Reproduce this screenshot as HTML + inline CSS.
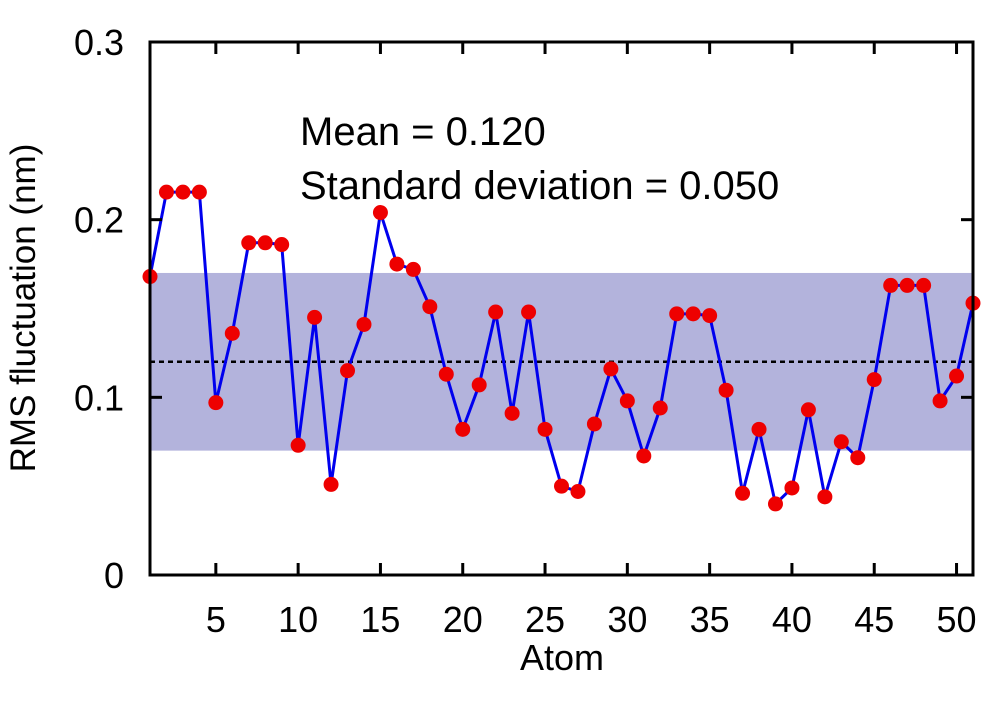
<!DOCTYPE html>
<html><head><meta charset="utf-8"><style>
html,body{margin:0;padding:0;background:#fff;}
text{font-family:"Liberation Sans",Arial,sans-serif;fill:#000;}
</style></head><body>
<svg id="chart" width="1000" height="700" xmlns="http://www.w3.org/2000/svg">
<g id="plot"></g>
</svg>
<script>
const atoms = [];
for (let i = 1; i <= 51; i++) atoms.push(i);
const rmsf = [0.168,0.2155,0.2155,0.2155,0.097,0.136,0.187,0.187,0.186,0.073,0.145,0.051,0.115,0.141,0.204,0.175,0.172,0.151,0.113,0.082,0.107,0.148,0.091,0.148,0.082,0.050,0.047,0.085,0.116,0.098,0.067,0.094,0.147,0.147,0.146,0.104,0.046,0.082,0.040,0.049,0.093,0.044,0.075,0.066,0.110,0.163,0.163,0.163,0.098,0.112,0.153];
const xTicks = [5,10,15,20,25,30,35,40,45,50];
const yTicks = [0,0.1,0.2,0.3];
const yTickLabels = ["0","0.1","0.2","0.3"];
const meanVal = 0.120, sdVal = 0.050;

const L=150,R=973,T=42,B=575;
const x = a => L + (a-1)/(50)*(R-L);
const y = v => B - v/0.3*(B-T);
const NS="http://www.w3.org/2000/svg";
const g=document.getElementById('plot');
function mk(tag,attrs,name,parent){const e=document.createElementNS(NS,tag);for(const k in attrs)e.setAttribute(k,attrs[k]);


(parent||g).appendChild(e);return e;}

mk('rect',{x:L,y:y(meanVal+sdVal),width:R-L,height:y(meanVal-sdVal)-y(meanVal+sdVal),fill:'#b3b3dc'},'std-band');
mk('line',{x1:L,x2:R,y1:y(meanVal),y2:y(meanVal),stroke:'#000','stroke-width':2.5,'stroke-dasharray':'5,4'},'mean-line');
mk('polyline',{points:atoms.map((a,i)=>x(a)+','+y(rmsf[i])).join(' '),fill:'none',stroke:'#0000ee','stroke-width':3},'rmsf-line');
atoms.forEach((a,i)=>{mk('circle',{cx:x(a),cy:y(rmsf[i]),r:7.5,fill:'#ee0000'},'rmsf-point');});
mk('rect',{x:L,y:T,width:R-L,height:B-T,fill:'none',stroke:'#000','stroke-width':3},'plot-frame');
xTicks.forEach(t=>{const px=x(t);
mk('line',{x1:px,x2:px,y1:B,y2:B-12,stroke:'#000','stroke-width':3},'x-tick');
mk('line',{x1:px,x2:px,y1:T,y2:T+12,stroke:'#000','stroke-width':3},'x-tick-top');
const tx=mk('text',{x:px,y:632,'text-anchor':'middle','font-size':36},'x-tick-label');tx.textContent=t;});
yTicks.forEach((t,i)=>{const py=y(t);
mk('line',{x1:L,x2:L+12,y1:py,y2:py,stroke:'#000','stroke-width':3},'y-tick');
mk('line',{x1:R,x2:R-12,y1:py,y2:py,stroke:'#000','stroke-width':3},'y-tick-right');
const tx=mk('text',{x:L-26,y:py+13,'text-anchor':'end','font-size':36},'y-tick-label');tx.textContent=yTickLabels[i];});
let t=mk('text',{x:562,y:670,'text-anchor':'middle','font-size':36},'x-axis-title');t.textContent='Atom';
t=mk('text',{x:0,y:0,'text-anchor':'middle','font-size':35,transform:'translate(35,308) rotate(-90)'},'y-axis-title');t.textContent='RMS fluctuation (nm)';
t=mk('text',{x:300,y:145,'font-size':40},'mean-annotation');t.textContent='Mean = '+meanVal.toFixed(3);
t=mk('text',{x:300,y:199,'font-size':40},'sd-annotation');t.textContent='Standard deviation = '+sdVal.toFixed(3);
</script>
</body></html>
